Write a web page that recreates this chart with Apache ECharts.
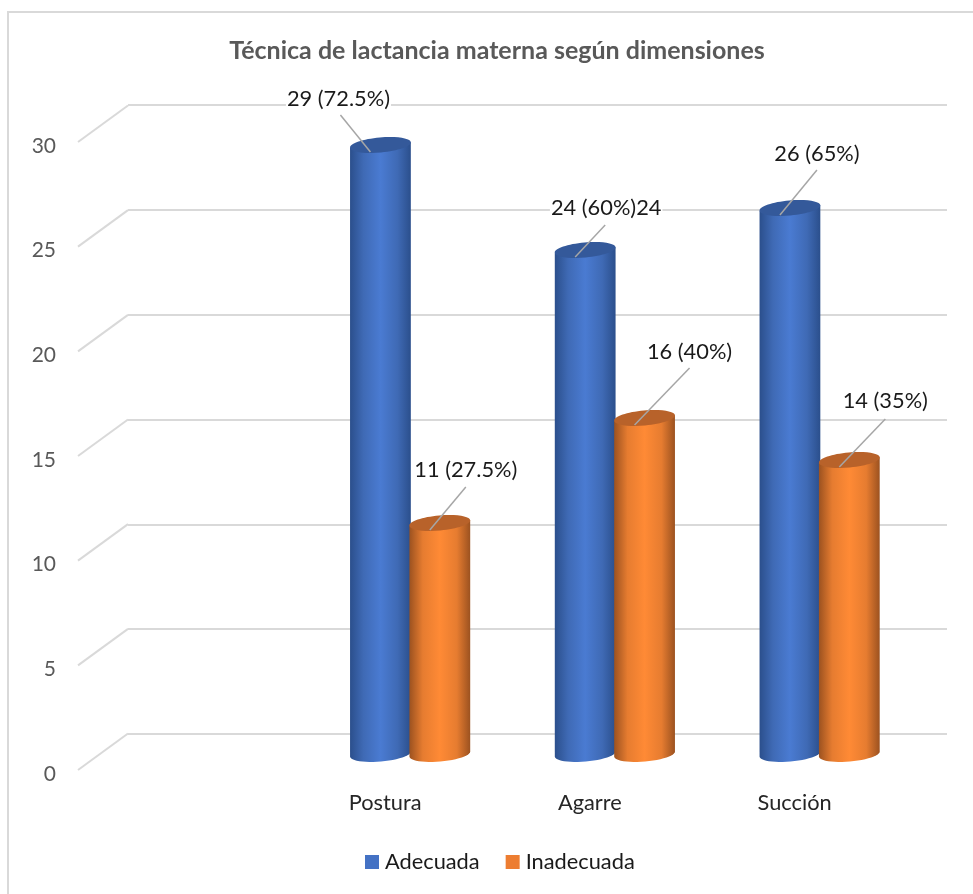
<!DOCTYPE html>
<html><head><meta charset="utf-8">
<style>html,body{margin:0;padding:0;background:#fff}#c{width:973px;height:894px}</style>
<script src="https://cdn.jsdelivr.net/npm/echarts@6/dist/echarts.min.js"></script>
</head><body><div id="c"></div>
<script>
const titleText = 'Técnica de lactancia materna según dimensiones';
const categories = ['', 'Postura', 'Agarre', 'Succión'];
const yTicks = [0, 5, 10, 15, 20, 25, 30];
const adecuada = [null, 29, 24, 26];
const inadecuada = [null, 11, 16, 14];
const adecuadaLabels = ['', '29 (72.5%)', '24 (60%)24', '26 (65%)'];
const inadecuadaLabels = ['', '11 (27.5%)', '16 (40%)', '14 (35%)'];

// label placement relative to top of each cylinder: [labelDx, labelDy, leaderEndDx, leaderEndDy]
const adecuadaCallouts = [null, [-42, -46, -40, -30], [21, -42, 20, -25], [27, -54, 27, -38]];
const inadecuadaCallouts = [null, [26, -53, 26, -36], [45, -66, 45, -50], [36, -59, 36, -41]];

const FONT = 'Lato, "Open Sans", sans-serif';
const DEPTH_X = 50, DEPTH_Y = 36.5;
const BAR_RATIO = 0.298, RY = 7.5, TILT = 5 * Math.PI / 180;

function shade(edge, soft, mid) {
  return { type: 'linear', x: 0, y: 0, x2: 1, y2: 0, colorStops: [
    { offset: 0, color: edge }, { offset: 0.22, color: soft },
    { offset: 0.5, color: mid }, { offset: 0.78, color: soft }, { offset: 1, color: edge }
  ]};
}
function ellipsePoint(cx, cy, rx, a) {
  const ex = rx * Math.cos(a), ey = RY * Math.sin(a);
  return [cx + ex * Math.cos(TILT) + ey * Math.sin(TILT), cy - ex * Math.sin(TILT) + ey * Math.cos(TILT)];
}
function cylinderSeries(name, values, labels, callouts, side, color, body, cap) {
  return {
    name, type: 'custom', xAxisIndex: 1, yAxisIndex: 1, z: 5,
    itemStyle: { color },
    data: values.map((v, i) => [i, v]).filter(d => d[1] !== null),
    renderItem(params, api) {
      const i = api.value(0), v = api.value(1);
      const band = api.size([1, 0])[0];
      const w = band * BAR_RATIO, rx = w / 2;
      const top = api.coord([i, v]), base = api.coord([i, 0]);
      const cx = top[0] + side * band * 0.145;
      const pts = [];
      pts.push(ellipsePoint(cx, top[1], rx, Math.PI));
      pts.push(ellipsePoint(cx, top[1], rx, 0));
      for (let k = 0; k <= 24; k++) pts.push(ellipsePoint(cx, base[1], rx, Math.PI * k / 24));
      const c = callouts[i];
      const children = [
        { type: 'polygon', shape: { points: pts }, z2: 1, style: { fill: body } },
        { type: 'ellipse', shape: { cx: 0, cy: 0, rx, ry: RY }, x: cx, y: top[1], rotation: TILT, z2: 2,
          style: { fill: cap } },
        { type: 'line', shape: { x1: cx - 10, y1: top[1] + 7, x2: cx + c[2], y2: top[1] + c[3] }, z2: 3,
          style: { stroke: '#a6a6a6', lineWidth: 1.5 } },
        { type: 'text', x: cx + c[0], y: top[1] + c[1], z2: 4,
          style: { text: labels[i], fill: '#1a1a1a', font: '400 21.8px ' + FONT, align: 'center', verticalAlign: 'middle',
            backgroundColor: '#fff', padding: [0, 1] } }
      ];
      return { type: 'group', children };
    }
  };
}

const chart = echarts.init(document.getElementById('c'), null, { renderer: 'canvas' });
const hiddenX = { type: 'category', data: categories, axisLine: { show: false }, axisTick: { show: false }, axisLabel: { show: false } };
const hiddenY = { type: 'value', min: 0, max: 30, interval: 5, axisLine: { show: false }, axisTick: { show: false }, axisLabel: { show: false }, splitLine: { show: false } };

chart.setOption({
  animation: false,
  backgroundColor: '#ffffff',
  title: { text: titleText, left: 492, top: 33, textAlign: 'center',
    textStyle: { color: '#595959', fontFamily: FONT, fontSize: 25, fontWeight: 'bold' } },
  graphic: [{ type: 'rect', z: -1, shape: { x: 8, y: 12, width: 2000, height: 2000 },
    style: { fill: 'none', stroke: '#d9d9d9', lineWidth: 2 } }],
  legend: { left: 360, top: 846, itemWidth: 14, itemHeight: 14, itemGap: 26,
    icon: 'rect', data: ['Adecuada', 'Inadecuada'],
    textStyle: { color: '#1a1a1a', fontFamily: FONT, fontSize: 21.8, padding: [0, 0, 0, 1] } },
  grid: [
    { left: 78, top: 142, width: 819, height: 628 },   // front plane
    { left: 103, top: 124, width: 819, height: 630 },  // bar plane
    { left: 128, top: 105, width: 819, height: 629 },  // back wall
    { left: 78, top: 146, width: 819, height: 628 }    // value-axis labels
  ],
  xAxis: [
    { type: 'category', gridIndex: 0, data: categories, axisLine: { show: false }, axisTick: { show: false },
      axisLabel: { color: '#262626', fontFamily: FONT, fontSize: 21.8, margin: 22 } },
    Object.assign({ gridIndex: 1 }, hiddenX),
    Object.assign({ gridIndex: 2 }, hiddenX),
    Object.assign({ gridIndex: 3 }, hiddenX)
  ],
  yAxis: [
    Object.assign({ gridIndex: 0 }, hiddenY),
    Object.assign({ gridIndex: 1 }, hiddenY),
    Object.assign({}, hiddenY, { gridIndex: 2, splitLine: { show: true, lineStyle: { color: '#d9d9d9', width: 2 } } }),
    { type: 'value', gridIndex: 3, min: 0, max: 30, interval: 5, axisLine: { show: false }, axisTick: { show: false },
      splitLine: { show: false }, axisLabel: { color: '#595959', fontFamily: FONT, fontSize: 21, margin: 22 } }
  ],
  series: [
    { type: 'custom', xAxisIndex: 0, yAxisIndex: 0, z: 1, silent: true,
      data: yTicks.map(t => [0, t]),
      renderItem(params, api) {
        const p = api.coord([0, api.value(1)]);
        const x0 = p[0] - api.size([1, 0])[0] / 2;
        return { type: 'line', shape: { x1: x0, y1: p[1], x2: x0 + DEPTH_X, y2: p[1] - DEPTH_Y },
          style: { stroke: '#d9d9d9', lineWidth: 2 } };
      } },
    cylinderSeries('Adecuada', adecuada, adecuadaLabels, adecuadaCallouts, -1, '#4472c4',
      shade('#2b4f8c', '#3f6ab5', '#4a7bd2'), '#34599a'),
    cylinderSeries('Inadecuada', inadecuada, inadecuadaLabels, inadecuadaCallouts, 1, '#ed7d31',
      shade('#9c5220', '#e67c30', '#ff8a35'), '#b8622a')
  ]
});
</script></body></html>
